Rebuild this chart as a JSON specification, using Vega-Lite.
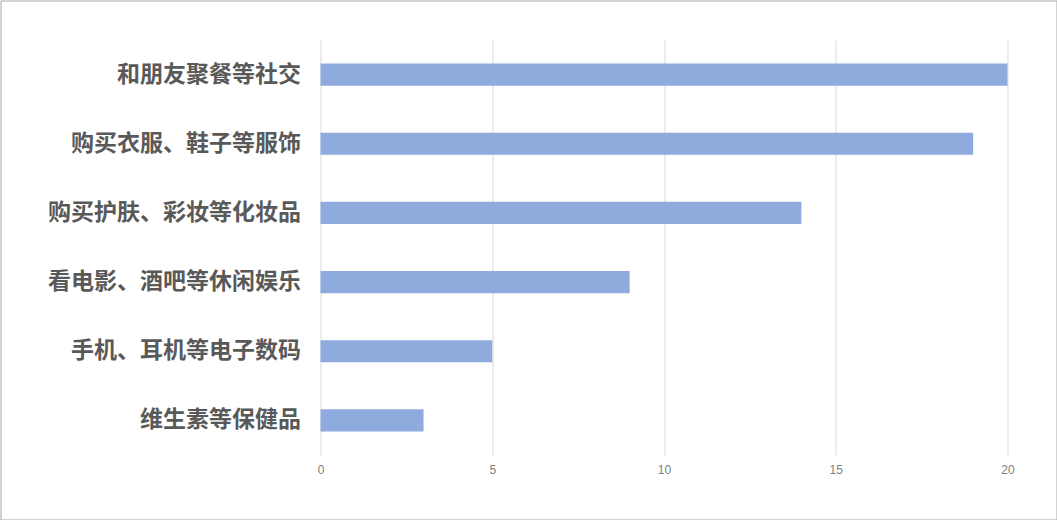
{
  "$schema": "https://vega.github.io/schema/vega-lite/v6.json",
  "width": 1056,
  "height": 519,
  "autosize": "none",
  "padding": {"left": 0.5, "top": 0.5, "right": 0.5, "bottom": 0.5},
  "background": "white",
  "data": {
    "values": [
      {"activity": "和朋友聚餐等社交", "count": 20},
      {"activity": "购买衣服、鞋子等服饰", "count": 19},
      {"activity": "购买护肤、彩妆等化妆品 ", "count": 14},
      {"activity": "看电影、酒吧等休闲娱乐", "count": 9},
      {"activity": "手机、耳机等电子数码", "count": 5},
      {"activity": "维生素等保健品", "count": 3}
    ]
  },
  "mark": {"type": "bar", "color": "#8FAADC", "height": {"band": 0.32}},
  "encoding": {
    "y": {
      "field": "activity",
      "type": "nominal",
      "sort": null,
      "scale": {"range": [39.5, 454.5], "paddingInner": 0, "paddingOuter": 0},
      "axis": {
        "title": null,
        "offset": -320,
        "domain": false,
        "ticks": false,
        "labelPadding": 20,
        "labelFont": "Noto Sans CJK SC",
        "labelFontSize": 23,
        "labelFontWeight": "bold",
        "labelColor": "#595959",
        "labelLimit": 400
      }
    },
    "x": {
      "field": "count",
      "type": "quantitative",
      "scale": {"domain": [0, 20], "range": [320, 1007], "nice": false},
      "axis": {
        "title": null,
        "orient": "top",
        "values": [0, 5, 10, 15, 20],
        "offset": -454.5,
        "domain": false,
        "ticks": false,
        "grid": true,
        "gridColor": "#d9d9d9",
        "labelFlush": false,
        "labelBaseline": "top",
        "labelPadding": -9,
        "labelFont": "Liberation Sans",
        "labelFontSize": 12,
        "labelColor": "#808080"
      }
    }
  },
  "config": {"view": {"stroke": "#a6a6a6", "strokeWidth": 1}}
}
